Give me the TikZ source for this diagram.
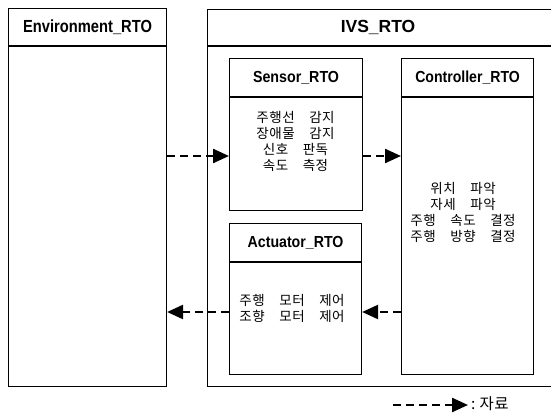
\documentclass[tikz,border=0pt]{standalone}
\usepackage{fontspec}
\setmainfont{Liberation Sans}
\newfontfamily\titlefont{Liberation Sans}
\newfontfamily\krfont[LetterSpace=4]{Noto Sans CJK KR}
\usetikzlibrary{arrows.meta}

% bold, horizontally narrowed box title
\newcommand{\boxtitle}[2]{\scalebox{#1}[1]{#2}}

\begin{document}
\begin{tikzpicture}[x=1pt,y=-1pt,
  box/.style={draw, line width=1.1pt, rectangle, inner sep=0pt, anchor=north west},
  body/.style={draw, line width=1.1pt, rectangle, inner sep=0pt, anchor=north},
  title/.style={font=\titlefont\bfseries\fontsize{16}{18}\selectfont},
  bigtitle/.style={font=\titlefont\bfseries\fontsize{17.5}{20}\selectfont},
  ktext/.style={font=\krfont\fontsize{13.5}{16}\selectfont, align=center, inner sep=0pt},
  flow/.style={line width=2.4pt, dash pattern=on 8pt off 5pt,
    -{Triangle[length=16pt,width=14pt]}},
]
\useasboundingbox (0,0) rectangle (551,414);
\fill[white] (0,0) rectangle (551,414);

% Environment_RTO
\node[box, minimum width=158pt, minimum height=37pt, bigtitle] (envhead) at (8,8) {\boxtitle{0.84}{Environment\_RTO}};
\node[body, minimum width=158pt, minimum height=340pt] (envbody) at (envhead.south) {};

% IVS_RTO (the right border runs off the page)
\node[box, minimum width=345pt, minimum height=36pt, bigtitle] (ivshead) at (207,9) {\hspace*{-4pt}IVS\_RTO};
\node[body, minimum width=345pt, minimum height=340pt] (ivsbody) at (ivshead.south) {};

% Sensor_RTO
\node[box, minimum width=133pt, minimum height=38pt, title] (senshead) at (229,58) {\boxtitle{0.89}{Sensor\_RTO}};
\node[body, minimum width=133pt, minimum height=113pt] (sensbody) at (senshead.south) {};
\node[ktext] (senstext) at (295.5,141) {주행선　감지\\장애물　감지\\신호　판독\\속도　측정};

% Controller_RTO
\node[box, minimum width=132pt, minimum height=38pt, title] (ctrlhead) at (401,58) {\boxtitle{0.88}{Controller\_RTO}};
\node[body, minimum width=132pt, minimum height=277pt] (ctrlbody) at (ctrlhead.south) {};
\node[ktext] (ctrltext) at (463,212) {위치　파악\\자세　파악\\주행　속도　결정\\주행　방향　결정};

% Actuator_RTO
\node[box, minimum width=132pt, minimum height=38pt, title] (acthead) at (229,223) {\boxtitle{0.885}{Actuator\_RTO}};
\node[body, minimum width=132pt, minimum height=112pt] (actbody) at (acthead.south) {};
\node[ktext, text depth=0pt] (acttext) at (292,308) {주행　모터　제어\\조향　모터　제어};

% data flows
\coordinate (sensflow) at (0,156);
\coordinate (actflow) at (0,312);
\draw[flow] (envbody.east |- sensflow) -- (sensbody.west |- sensflow);
\draw[flow] (sensbody.east |- sensflow) -- (ctrlbody.west |- sensflow);
\draw[flow] (ctrlbody.west |- actflow) -- (actbody.east |- actflow);
\draw[flow] (actbody.west |- actflow) -- (envbody.east |- actflow);

% legend
\coordinate (legstart) at (393,405);
\coordinate (legend) at (468,405);
\draw[flow] (legstart) -- (legend);
\node[anchor=west, font=\krfont\fontsize{15.5}{17}\selectfont, inner sep=0pt] (legtext) at (471,404) {:~자료};
\end{tikzpicture}
\end{document}
